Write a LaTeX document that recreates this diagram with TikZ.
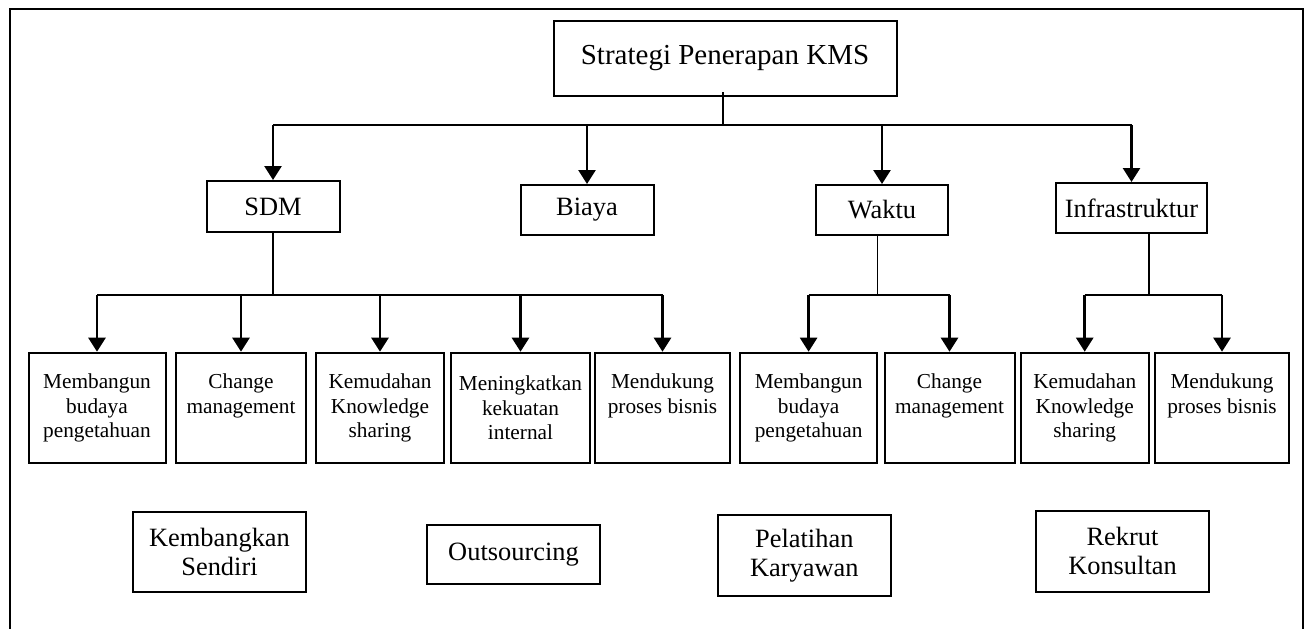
\documentclass[tikz,border=0pt]{standalone}
\usepackage{fontspec}
\setmainfont{Liberation Serif}
\usetikzlibrary{arrows.meta}

\begin{document}
\begin{tikzpicture}[x=0.5pt, y=-0.5pt, >={Triangle[length=7pt,width=8.5pt]},
    box/.style={draw, line width=1pt, inner sep=0pt, align=center},
    mainbox/.style={box, minimum width=171.5pt, minimum height=37.5pt, font=\fontsize{14.5}{17}\selectfont},
    aspect/.style={box, minimum width=66.5pt, minimum height=25pt, font=\fontsize{13.2}{15}\selectfont},
    itembox/.style={box, minimum height=55.3pt, font=\fontsize{10.65}{12.25}\selectfont},
    optbox/.style={box, minimum width=86.5pt, minimum height=40.3pt, font=\fontsize{13.2}{14.5}\selectfont},
    bus/.style={line width=0.9pt},
    stem/.style={line width=0.7pt},
    arrow/.style={->, line width=1.3pt}]
\useasboundingbox (0,0) rectangle (1309,628);
% outer frame (bottom edge falls outside the page)
\draw [line width=1.2pt] (10,640) -- (10,9) -- (1303,9) -- (1303,640);

% top
\node [mainbox] (top) at (725,58.5) {Strategi Penerapan KMS};

% aspects
\node [aspect, minimum height=25.5pt] (sdm) at (273,206.5) {SDM};
\node [aspect] (biaya) at (587,210) {Biaya};
\node [aspect, minimum width=66.25pt] (waktu) at (882,210) {Waktu};
\node [aspect, minimum width=75.5pt] (infra) at (1131.5,208) {Infrastruktur};

% items
\node [itembox, minimum width=68.5pt] (s1) at (97,408) {Membangun\\budaya\\pengetahuan};
\node [itembox, minimum width=65pt] (s2) at (241,408) {Change\\management\\\vphantom{g}};
\node [itembox, minimum width=64pt] (s3) at (380,408) {Kemudahan\\Knowledge\\sharing};
\node [itembox, minimum width=69.5pt] (s4) at (520.5,408) {Meningkatkan\\kekuatan\\internal};
\node [itembox, minimum width=67.5pt] (s5) at (662.5,408) {Mendukung\\proses bisnis\\\vphantom{g}};
\node [itembox, minimum width=68.5pt] (w1) at (808.6,408) {Membangun\\budaya\\pengetahuan};
\node [itembox, minimum width=65pt] (w2) at (949.5,408) {Change\\management\\\vphantom{g}};
\node [itembox, minimum width=64pt] (i1) at (1084.7,408) {Kemudahan\\Knowledge\\sharing};
\node [itembox, minimum width=67pt] (i2) at (1222,408) {Mendukung\\proses bisnis\\\vphantom{g}};

% options
\node [optbox] (kembangkan) at (219.5,552) {Kembangkan\\Sendiri};
\node [optbox, minimum height=29.35pt] (outsourcing) at (513.5,554.4) {Outsourcing};
\node [optbox] (pelatihan) at (804.3,555.4) {Pelatihan\\Karyawan};
\node [optbox] (rekrut) at (1122.5,551.4) {Rekrut\\Konsultan};

% hubs
\coordinate (hub) at (723,125);
\coordinate (sdmhub) at (271,295);
\coordinate (waktuhub) at (877.5,295);
\coordinate (infrahub) at (1149,295);

% top level
\draw [stem] ([yshift=2.5pt]top.south -| hub) -- (hub);
\draw [bus] (sdm |- hub) -- (infra |- hub);
\foreach \n in {sdm,biaya,waktu,infra}
  \draw [arrow] (\n |- hub) -- (\n);

% SDM
\draw [stem] (sdm) -- (sdm |- sdmhub);
\draw [bus] (s1 |- sdmhub) -- (s5 |- sdmhub);
\foreach \n in {s1,s2,s3,s4,s5}
  \draw [arrow] (\n |- sdmhub) -- (\n);

% Waktu
\draw [stem] (waktu.south -| waktuhub) -- (waktuhub);
\draw [bus] (w1 |- waktuhub) -- (w2 |- waktuhub);
\foreach \n in {w1,w2}
  \draw [arrow] (\n |- waktuhub) -- (\n);

% Infrastruktur
\draw [stem] (infra.south -| infrahub) -- (infrahub);
\draw [bus] (i1 |- infrahub) -- (i2 |- infrahub);
\foreach \n in {i1,i2}
  \draw [arrow] (\n |- infrahub) -- (\n);
\end{tikzpicture}
\end{document}
